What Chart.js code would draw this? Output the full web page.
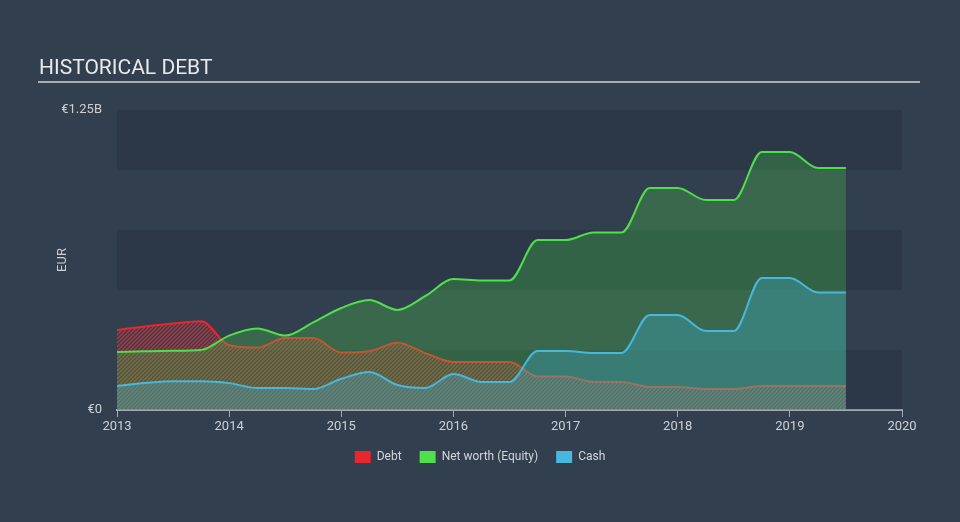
<!DOCTYPE html>
<html>
<head>
<meta charset="utf-8">
<script src="https://cdn.jsdelivr.net/npm/chart.js@4.4.1/dist/chart.umd.min.js"></script>
<style>
  html, body { margin: 0; padding: 0; background: #323f4f; }
  #wrap { position: relative; width: 960px; height: 522px; overflow: hidden; }
  #title { position: absolute; left: 39px; top: 55px; font: 21px Roboto, sans-serif; color: #e8eaec; }
  #rule { position: absolute; left: 38px; top: 81px; width: 882px; height: 2px; background: #a9aeb5; }
  canvas { position: absolute; left: 0; top: 0; }
</style>
</head>
<body>
<div id="wrap">
  <canvas id="debtChart" width="960" height="522"></canvas>
  <div id="title">HISTORICAL DEBT</div>
  <div id="rule"></div>
</div>
<script>
// quarterly points, values in billions of EUR
const years = [2013, 2013.25, 2013.5, 2013.75, 2014, 2014.25, 2014.5, 2014.75,
  2015, 2015.25, 2015.5, 2015.75, 2016, 2016.25, 2016.5, 2016.75,
  2017, 2017.25, 2017.5, 2017.75, 2018, 2018.25, 2018.5, 2018.75,
  2019, 2019.25, 2019.5];

const debt = [0.333, 0.348, 0.36, 0.37, 0.27, 0.26, 0.30, 0.30,
  0.24, 0.245, 0.28, 0.237, 0.20, 0.20, 0.20, 0.14,
  0.14, 0.117, 0.117, 0.096, 0.096, 0.0875, 0.0875, 0.10,
  0.10, 0.10, 0.10];

const equity = [0.242, 0.245, 0.247, 0.25, 0.31, 0.34, 0.31, 0.365,
  0.425, 0.458, 0.417, 0.475, 0.546, 0.54, 0.54, 0.708,
  0.708, 0.74, 0.74, 0.925, 0.925, 0.875, 0.875, 1.075,
  1.075, 1.008, 1.008];

const cash = [0.10, 0.112, 0.12, 0.12, 0.112, 0.092, 0.092, 0.0875,
  0.13, 0.158, 0.104, 0.092, 0.15, 0.117, 0.117, 0.246,
  0.246, 0.238, 0.238, 0.396, 0.396, 0.329, 0.329, 0.55,
  0.55, 0.49, 0.49];

const seriesNames = ["Debt", "Net worth (Equity)", "Cash"];
const seriesColors = ["#e9262b", "#4fdf4a", "#47b7de"];
const yTickValues = [0, 1.25];
const yTickLabels = ["€0", "€1.25B"];
const bandRanges = [[0, 0.25], [0.5, 0.75], [1, 1.25]];

function pts(vals) {
  return vals.map((v, i) => ({ x: years[i], y: v }));
}

// diagonal hatch for the debt area
function hatch(color) {
  const c = document.createElement("canvas");
  c.width = 4; c.height = 4;
  const g = c.getContext("2d");
  g.strokeStyle = color;
  g.lineWidth = 1.3;
  g.beginPath();
  g.moveTo(-1, 5); g.lineTo(5, -1);
  g.moveTo(-1, 1); g.lineTo(1, -1);
  g.moveTo(3, 5); g.lineTo(5, 3);
  g.stroke();
  return g.createPattern(c, "repeat");
}

const bands = {
  id: "bands",
  beforeDatasetsDraw(chart) {
    const { ctx, chartArea, scales } = chart;
    ctx.save();
    ctx.fillStyle = "rgba(22,30,42,0.2)";
    bandRanges.forEach(r => {
      const y1 = scales.y.getPixelForValue(r[1]);
      const y0 = scales.y.getPixelForValue(r[0]);
      ctx.fillRect(chartArea.left, y1, chartArea.right - chartArea.left, y0 - y1);
    });
    ctx.restore();
  }
};

Chart.defaults.font.family = "Roboto, sans-serif";
Chart.defaults.color = "#cdd1d6";

const ctx = document.getElementById("debtChart").getContext("2d");

// cash first so it is painted last (on top), debt painted first
const chart = new Chart(ctx, {
  type: "line",
  data: {
    datasets: [
      {
        label: seriesNames[2],
        data: pts(cash),
        borderColor: seriesColors[2],
        backgroundColor: "rgba(71,183,222,0.30)",
        fill: "origin",
        legendColor: seriesColors[2]
      },
      {
        label: seriesNames[1],
        data: pts(equity),
        borderColor: seriesColors[1],
        backgroundColor: "rgba(79,223,74,0.26)",
        fill: "origin",
        legendColor: seriesColors[1]
      },
      {
        label: seriesNames[0],
        data: pts(debt),
        borderColor: seriesColors[0],
        backgroundColor: hatch("rgba(236,48,52,0.75)"),
        fill: "origin",
        legendColor: seriesColors[0]
      }
    ]
  },
  options: {
    responsive: false,
    animation: false,
    devicePixelRatio: 1,
    layout: { padding: { top: 110, right: 0, bottom: 49, left: 0 } },
    elements: {
      point: { radius: 0 },
      line: { borderWidth: 2, cubicInterpolationMode: "monotone" }
    },
    scales: {
      x: {
        type: "linear",
        min: 2013,
        max: 2020,
        afterFit(s) { s.height = 23; },
        ticks: {
          stepSize: 1,
          padding: 2,
          color: "#cdd1d6",
          font: { size: 13 },
          callback: v => String(v)
        },
        grid: {
          drawOnChartArea: false,
          drawTicks: true,
          tickLength: 7,
          color: "#a3aab4",
          lineWidth: 1
        },
        border: { display: true, color: "#a3aab4", width: 2 }
      },
      y: {
        min: 0,
        max: 1.25,
        afterFit(s) { s.width = 117; },
        afterBuildTicks(s) { s.ticks = yTickValues.map(v => ({ value: v })); },
        ticks: {
          padding: 7,
          color: "#cdd1d6",
          font: { size: 13 },
          callback: (v) => yTickLabels[yTickValues.indexOf(v)]
        },
        grid: { display: false },
        border: { display: false },
        title: {
          display: true,
          text: "EUR",
          color: "#cdd1d6",
          font: { size: 13 },
          padding: { top: 55, bottom: 0 }
        }
      },
      // empty right-hand axis that only reserves the space right of the plot
      yr: {
        position: "right",
        afterFit(s) { s.width = 58; },
        ticks: { display: false },
        grid: { display: false },
        border: { display: false }
      }
    },
    plugins: {
      tooltip: { enabled: false },
      legend: {
        position: "bottom",
        labels: {
          boxWidth: 16,
          boxHeight: 12,
          padding: 18,
          color: "#d2d6db",
          font: { size: 12 },
          sort: (a, b) => b.datasetIndex - a.datasetIndex,
          generateLabels(chart) {
            const items = Chart.defaults.plugins.legend.labels.generateLabels(chart);
            items.forEach(it => {
              const ds = chart.data.datasets[it.datasetIndex];
              it.fillStyle = ds.legendColor;
              it.strokeStyle = ds.legendColor;
              it.lineWidth = 0;
            });
            return items;
          }
        }
      }
    }
  },
  plugins: [bands]
});
</script>
</body>
</html>
